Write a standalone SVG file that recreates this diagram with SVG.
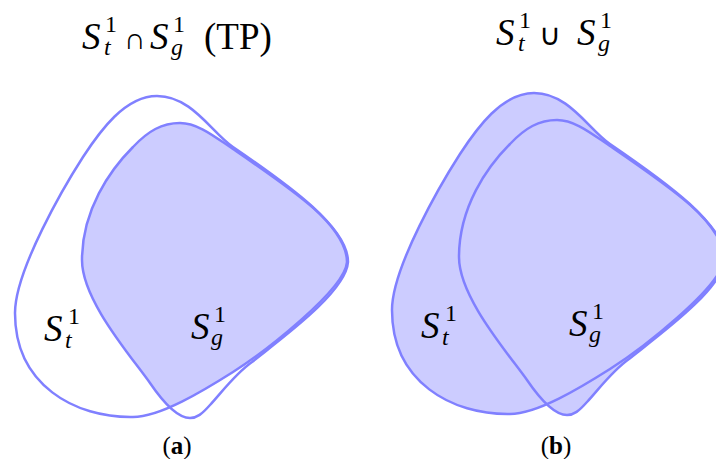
<svg xmlns="http://www.w3.org/2000/svg" xmlns:xlink="http://www.w3.org/1999/xlink" width="716" height="459" viewBox="0 0 716 459">
<style>
.outline{fill:none;stroke:#8080ff;stroke-width:2.5;stroke-linejoin:round}
.fillb{fill:#ccccff;stroke:none}
.ser{font-family:'Liberation Serif','Times New Roman',serif;fill:#000}
.big{font-size:37px}
.it{font-style:italic}
.sc{font-size:24px}
.op{font-size:30px}
.cap{font-size:25px}
.bold{font-weight:bold}
</style>
<defs>
<path id="St" d="M157,96 C192,96 212,133 233,147 C293,188 347,227 347,262 C345,290 263,353 233,372 C203,391 160,417 133,417 C75,418 15,385 15,313 C15,270 65,185 83,157 C100,131 125,96 157,96 Z"/>
<path id="Sg" d="M180,123 C198,123 215,137 233,149 C293,190 348,227 348,262 C346,292 282,338 252,362 C235,374 222,392 210,405 C202,414 197,418 190,418 C178,418 165,405 150,383 C130,355 82,300 82,260 C82,210 110,170 133,147 C148,131 162,123 180,123 Z"/>
<clipPath id="clipSt">
<path d="M157,96 C192,96 212,133 233,147 C293,188 347,227 347,262 C345,290 263,353 233,372 C203,391 160,417 133,417 C75,418 15,385 15,313 C15,270 65,185 83,157 C100,131 125,96 157,96 Z"/>
</clipPath>
</defs>

<g id="panel-a">
<g id="title-a">
<text class="ser big" style="font-family:'Liberation Serif',serif"><tspan x="82" y="49" class="it">S</tspan><tspan x="105" y="32" class="sc">1</tspan><tspan x="104" y="55" class="sc it">t</tspan><tspan x="124" y="49" class="op">∩</tspan><tspan x="150" y="49" class="it">S</tspan><tspan x="173" y="32" class="sc">1</tspan><tspan x="171" y="55" class="sc it">g</tspan><tspan x="204" y="49">(TP)</tspan></text>
</g>
<g id="a-intersection">
<use xlink:href="#Sg" href="#Sg" class="fillb" clip-path="url(#clipSt)"/>
</g>
<g id="a-St">
<use xlink:href="#St" href="#St" class="outline"/>
<text class="ser big" style="font-family:'Liberation Serif',serif"><tspan x="44" y="341" class="it">S</tspan><tspan x="68" y="324" class="sc">1</tspan><tspan x="65" y="348" class="sc it">t</tspan></text>
</g>
<g id="a-Sg">
<use xlink:href="#Sg" href="#Sg" class="outline"/>
<text class="ser big" style="font-family:'Liberation Serif',serif"><tspan x="191" y="339" class="it">S</tspan><tspan x="214" y="322" class="sc">1</tspan><tspan x="211" y="345" class="sc it">g</tspan></text>
</g>
<g id="caption-a">
<text class="ser cap" style="font-family:'Liberation Serif',serif" x="177" y="454" text-anchor="middle">(<tspan class="bold">a</tspan>)</text>
</g>
</g>

<g id="panel-b">
<g id="title-b">
<text class="ser big" style="font-family:'Liberation Serif',serif"><tspan x="496" y="45" class="it">S</tspan><tspan x="519" y="28" class="sc">1</tspan><tspan x="518" y="51" class="sc it">t</tspan><tspan x="539" y="45" class="op">∪</tspan><tspan x="577" y="45" class="it">S</tspan><tspan x="600" y="28" class="sc">1</tspan><tspan x="598" y="51" class="sc it">g</tspan></text>
</g>
<g transform="translate(377,-3)">
<g id="b-union">
<use xlink:href="#St" href="#St" class="fillb"/>
<use xlink:href="#Sg" href="#Sg" class="fillb"/>
</g>
<g id="b-St">
<use xlink:href="#St" href="#St" class="outline"/>
<text class="ser big" style="font-family:'Liberation Serif',serif"><tspan x="44" y="341" class="it">S</tspan><tspan x="68" y="324" class="sc">1</tspan><tspan x="65" y="348" class="sc it">t</tspan></text>
</g>
<g id="b-Sg">
<use xlink:href="#Sg" href="#Sg" class="outline"/>
<text class="ser big" style="font-family:'Liberation Serif',serif"><tspan x="192" y="339" class="it">S</tspan><tspan x="215" y="322" class="sc">1</tspan><tspan x="212" y="345" class="sc it">g</tspan></text>
</g>
</g>
<g id="caption-b">
<text class="ser cap" style="font-family:'Liberation Serif',serif" x="556" y="454" text-anchor="middle">(<tspan class="bold">b</tspan>)</text>
</g>
</g>
</svg>
